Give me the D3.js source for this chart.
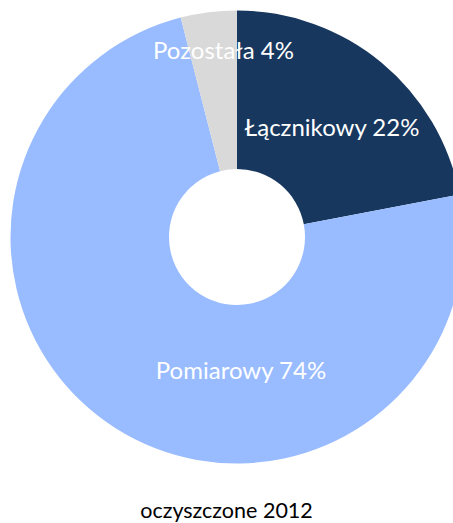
<!DOCTYPE html>
<html>
<head>
<meta charset="utf-8">
<script src="https://cdn.jsdelivr.net/npm/d3@7"></script>
<style>
  html, body { margin: 0; padding: 0; background: #fff; }
  svg { display: block; }
</style>
</head>
<body>
<svg id="chart" width="453" height="523"></svg>
<script>
// data
const categories = ['Łącznikowy', 'Pomiarowy', 'Pozostała'];
const values = [22, 74, 4];
const colors = ['#17375E', '#99BBFF', '#D9D9D9'];
const title = 'oczyszczone 2012';

const width = 453, height = 523;
const cx = 237, cy = 237;
const outerR = 226.5, innerR = 68;

// where Excel put the labels, relative to the donut center
const labelPos = {
  'Łącznikowy': [95, -101],
  'Pomiarowy': [4, 142],
  'Pozostała': [-13.5, -177.7]
};

const svg = d3.select('#chart');
const g = svg.append('g').attr('transform', `translate(${cx},${cy})`);

const data = categories.map((c, i) => ({name: c, value: values[i], color: colors[i]}));

const pie = d3.pie().sort(null).value(d => d.value);
const arc = d3.arc().innerRadius(innerR).outerRadius(outerR);
const arcs = pie(data);

g.selectAll('path')
  .data(arcs)
  .join('path')
  .attr('d', arc)
  .attr('fill', d => d.data.color);

const total = d3.sum(values);
g.selectAll('text.lbl')
  .data(arcs)
  .join('text')
  .attr('class', 'lbl')
  .attr('x', d => labelPos[d.data.name][0])
  .attr('y', d => labelPos[d.data.name][1])
  .attr('text-anchor', 'middle')
  .style('font-family', 'Lato, "Open Sans", sans-serif')
  .style('font-size', '24px')
  .style('fill', '#fff')
  .text(d => `${d.data.name} ${Math.round(d.data.value / total * 100)}%`);

svg.append('text')
  .attr('x', width / 2)
  .attr('y', 518)
  .attr('text-anchor', 'middle')
  .style('font-family', 'Lato, "Open Sans", sans-serif')
  .style('font-size', '21.5px')
  .style('fill', '#000')
  .text(title);
</script>
</body>
</html>
